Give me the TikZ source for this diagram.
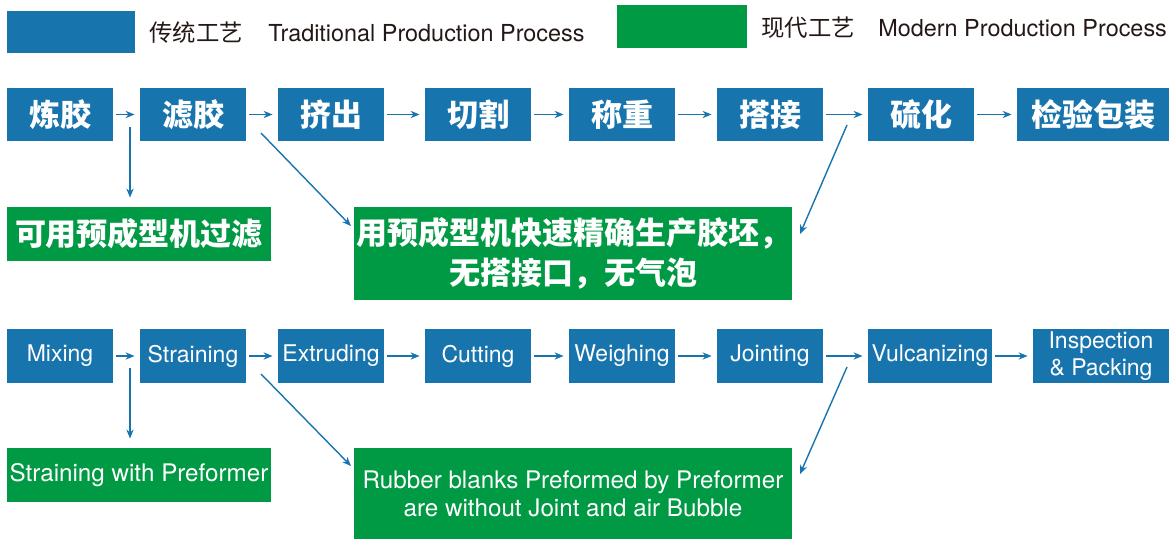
\documentclass[tikz,border=0pt]{standalone}
\usepackage{fontspec}
\setmainfont{TeX Gyre Heros}
\newfontfamily\cjk{Noto Sans CJK SC}
\usetikzlibrary{arrows.meta}
\definecolor{tradblue}{RGB}{24,116,173}
\definecolor{modgreen}{RGB}{0,153,68}
\definecolor{legendtext}{RGB}{35,24,21}
\tikzset{trad_box/.style={rectangle, fill=tradblue, text=white, inner sep=0pt, minimum height=26.5pt, align=center}}
\tikzset{modern_box/.style={rectangle, fill=modgreen, text=white, inner sep=0pt, align=center}}
\tikzset{zh_text/.style={font=\cjk\bfseries\fontsize{15.5}{20}\selectfont}}
\tikzset{en_text/.style={font=\fontsize{11.5}{13.5}\selectfont}}
\tikzset{en_note/.style={font=\fontsize{12.1}{14}\selectfont}}
\tikzset{legend_text/.style={anchor=west, inner sep=0pt, text=legendtext, font=\fontsize{11.7}{13}\selectfont}}
\tikzset{flow_arrow/.style={draw=tradblue, line width=0.7pt, -{Stealth[length=4.5pt,width=3.6pt]}}}

\begin{document}
\begin{tikzpicture}[x=0.5pt, y=-0.5pt]
    \useasboundingbox (0,0) rectangle (1173,539);
    \node[fill=tradblue, minimum width=64pt, minimum height=21pt, inner sep=0pt] (legend_trad) at (71,32) {};
    \node[legend_text, font=\cjk\fontsize{11.7}{13}\selectfont] (legend_trad_zh) at (149,33) {传统工艺};
    \node[legend_text] (legend_trad_en) at (268,33) {Traditional Production Process};
    \node[fill=modgreen, minimum width=65pt, minimum height=21.5pt, inner sep=0pt] (legend_mod) at (682,26.5) {};
    \node[legend_text, font=\cjk\fontsize{11.7}{13}\selectfont] (legend_mod_zh) at (761,28) {现代工艺};
    \node[legend_text] (legend_mod_en) at (878,28) {Modern Production Process};

    \node[trad_box, zh_text, minimum width=53pt] (t1) at (60,114.5) {炼胶};
    \node[trad_box, zh_text, minimum width=53pt] (t2) at (193,114.5) {滤胶};
    \node[trad_box, zh_text, minimum width=53pt] (t3) at (331,114.5) {挤出};
    \node[trad_box, zh_text, minimum width=53pt] (t4) at (478,114.5) {切割};
    \node[trad_box, zh_text, minimum width=53pt] (t5) at (622,114.5) {称重};
    \node[trad_box, zh_text, minimum width=53pt] (t6) at (770,114.5) {搭接};
    \node[trad_box, zh_text, minimum width=53pt] (t7) at (921,114.5) {硫化};
    \node[trad_box, zh_text, minimum width=76pt] (t8) at (1093,114.5) {检验包装};
    \node[modern_box, zh_text, minimum width=132pt, minimum height=27pt] (g1) at (139,234) {可用预成型机过滤};
    \node[modern_box, zh_text, minimum width=219pt, minimum height=46.5pt] (g2) at (573,253.5) {用预成型机快速精确生产胶坯，\\无搭接口，无气泡};

    \node[trad_box, en_text, minimum width=53pt, minimum height=27pt] (b1) at (60,356) {Mixing};
    \node[trad_box, en_text, minimum width=53pt, minimum height=27pt] (b2) at (193,356) {Straining};
    \node[trad_box, en_text, minimum width=53pt, minimum height=27pt] (b3) at (331,356) {Extruding};
    \node[trad_box, en_text, minimum width=53pt, minimum height=27pt] (b4) at (478,356) {Cutting};
    \node[trad_box, en_text, minimum width=53pt, minimum height=27pt] (b5) at (622,356) {Weighing};
    \node[trad_box, en_text, minimum width=53pt, minimum height=27pt] (b6) at (770,356) {Jointing};
    \node[trad_box, en_text, minimum width=62pt, minimum height=27pt] (b7) at (930,356) {Vulcanizing};
    \node[trad_box, en_text, minimum width=68pt, minimum height=27pt] (b8) at (1101,356) {Inspection\\\& Packing};
    \node[modern_box, en_note, minimum width=132pt, minimum height=27pt] (g3) at (139,475) {Straining with Preformer};
    \node[modern_box, en_note, minimum width=219pt, minimum height=45.5pt] (g4) at (573,494) {Rubber blanks Preformed by Preformer\\are without Joint and air Bubble};

    \foreach \a/\b in {t1/t2,t2/t3,t3/t4,t4/t5,t5/t6,t6/t7,t7/t8,b1/b2,b2/b3,b3/b4,b4/b5,b5/b6,b6/b7,b7/b8}
      \draw[flow_arrow, shorten <=1.5pt, shorten >=2.5pt] (\a) -- (\b);

    \coordinate (split_top) at (130,127);
    \coordinate (split_bot) at (130,368);
    \coordinate (diag_top_a) at (261,133);
    \coordinate (diag_top_b) at (351,226);
    \coordinate (diag_top_c) at (847,125);
    \coordinate (diag_top_d) at (800,234);
    \coordinate (diag_bot_a) at (261,374);
    \coordinate (diag_bot_b) at (351,466);
    \coordinate (diag_bot_c) at (847,367);
    \coordinate (diag_bot_d) at (800,474);
    \draw[flow_arrow, shorten >=4.5pt] (split_top) -- (split_top |- g1.north);
    \draw[flow_arrow, shorten >=4.5pt] (split_bot) -- (split_bot |- g3.north);
    \draw[flow_arrow] (diag_top_a) -- (diag_top_b);
    \draw[flow_arrow] (diag_top_c) -- (diag_top_d);
    \draw[flow_arrow] (diag_bot_a) -- (diag_bot_b);
    \draw[flow_arrow] (diag_bot_c) -- (diag_bot_d);
\end{tikzpicture}
\end{document}
